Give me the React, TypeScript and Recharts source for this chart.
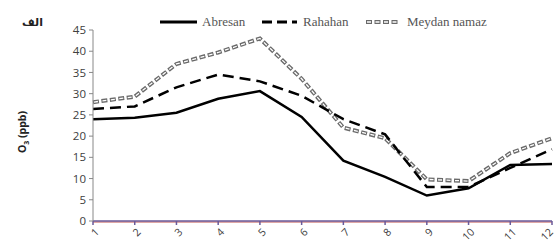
import React from 'react';
import { LineChart, Line, XAxis, YAxis, ReferenceLine } from 'recharts';

const months = [1, 2, 3, 4, 5, 6, 7, 8, 9, 10, 11, 12];
const abresan = [24, 24.3, 25.5, 28.8, 30.6, 24.5, 14.2, 10.4, 6, 7.7, 13.2, 13.4];
const rahahan = [26.4, 27, 31.5, 34.5, 32.9, 29.5, 24, 20.4, 8, 8, 12.5, 16.9];
const meydan = [28, 29.3, 37, 39.7, 43, 33.5, 22, 19.5, 9.8, 9.4, 16, 19.5];
const yTicks = [0, 5, 10, 15, 20, 25, 30, 35, 40, 45];

const data = months.map((m, i) => ({
  month: m,
  abresan: abresan[i],
  rahahan: rahahan[i],
  meydan: meydan[i],
}));

const XTick = ({ x, y, payload }: any) => {
  const ax = Math.min(x + 4, 552);
  const ay = y + 3;
  return (
    <text
      x={ax}
      y={ay}
      transform={`rotate(-45, ${ax}, ${ay})`}
      textAnchor="end"
      dominantBaseline="central"
      fontSize={10.5}
      fontFamily="'Open Sans', sans-serif"
      fill="#404040"
    >
      {payload.value}
    </text>
  );
};

const legendFont = "'Liberation Serif', 'DejaVu Serif', serif";

const App: React.FC = () => {
  return (
    <div style={{ position: 'absolute', left: 0, top: 0, width: 555, height: 246, background: '#fff' }}>
      <LineChart
        width={555}
        height={246}
        data={data}
        margin={{ top: 30, right: 3, bottom: 0, left: 63 }}
      >
        <XAxis
          dataKey="month"
          type="number"
          domain={[1, 12]}
          ticks={months}
          tick={<XTick />}
          tickSize={4}
          stroke="#6a5a9a"
          strokeWidth={1.5}
          height={25}
        />
        <YAxis
          domain={[0, 45]}
          ticks={yTicks}
          width={30}
          tickSize={4}
          stroke="#888"
          tick={{ fontSize: 11.5, fill: '#404040', fontFamily: "'Open Sans', sans-serif" }}
          tickMargin={3}
        />
        <ReferenceLine y={0} stroke="#c0504d" strokeWidth={1} transform="translate(0,1)" />
        <Line
          dataKey="meydan"
          stroke="#6a6a6a"
          strokeWidth={4}
          strokeDasharray="6 2.5"
          dot={false}
          isAnimationActive={false}
        />
        <Line
          dataKey="meydan"
          stroke="#ffffff"
          strokeWidth={1.3}
          strokeDasharray="4 4.5"
          strokeDashoffset={-1}
          dot={false}
          isAnimationActive={false}
        />
        <Line
          dataKey="rahahan"
          stroke="#000"
          strokeWidth={2.5}
          strokeDasharray="11 6"
          dot={false}
          isAnimationActive={false}
        />
        <Line
          dataKey="abresan"
          stroke="#000"
          strokeWidth={2.5}
          dot={false}
          isAnimationActive={false}
        />
      </LineChart>

      {/* legend */}
      <svg style={{ position: 'absolute', left: 0, top: 0 }} width={555} height={40}>
        <line x1={160} y1={22} x2={197} y2={22} stroke="#000" strokeWidth={3} />
        <text x={202} y={26} fontSize={13} fontFamily={legendFont} fill="#555">Abresan</text>
        <line x1={262} y1={22} x2={297} y2={22} stroke="#000" strokeWidth={3} strokeDasharray="10 5" />
        <text x={303} y={26} fontSize={13} fontFamily={legendFont} fill="#555">Rahahan</text>
        <line x1={366} y1={22} x2={400} y2={22} stroke="#6a6a6a" strokeWidth={4} strokeDasharray="6 2.5" />
        <line x1={366} y1={22} x2={400} y2={22} stroke="#fff" strokeWidth={1.3} strokeDasharray="4 4.5" strokeDashoffset={-1} />
        <text x={407} y={26} fontSize={13} fontFamily={legendFont} fill="#555">Meydan namaz</text>
        <text x={22} y={26} fontSize={11} fontWeight="bold" fontFamily="'DejaVu Sans', sans-serif" fill="#222">الف</text>
      </svg>

      {/* y axis label */}
      <div
        style={{
          position: 'absolute',
          left: 23,
          top: 132,
          transform: 'translate(-50%, -50%) rotate(-90deg)',
          fontFamily: "'Open Sans', sans-serif",
          fontWeight: 'bold',
          fontSize: 10.5,
          color: '#222',
          whiteSpace: 'nowrap',
        }}
      >
        O<sub style={{ fontSize: 7 }}>3</sub> (ppb)
      </div>
    </div>
  );
};

export default App;
